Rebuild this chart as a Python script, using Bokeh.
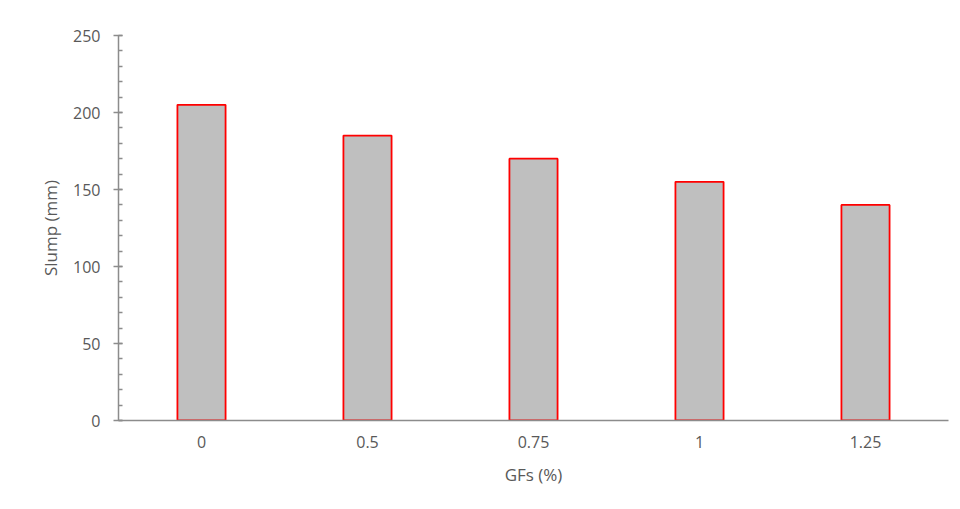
from bokeh.plotting import figure
from bokeh.models import Range1d, SingleIntervalTicker
from bokeh.embed import file_html
from bokeh.resources import INLINE

categories = ["0", "0.5", "0.75", "1", "1.25"]
slump = [205, 185, 170, 155, 140]

FONT = "Open Sans"
TXT = "#595959"
AX = "#8c8c8c"

p = figure(x_range=categories, y_range=Range1d(0, 250), width=952, height=501,
           output_backend="svg", toolbar_location=None,
           min_border_left=118, min_border_right=4, min_border_top=35, min_border_bottom=81)

p.vbar(x=categories, top=slump, width=0.29, fill_color="#bfbfbf",
       line_color="#ff0000", line_width=1.8)

p.outline_line_color = None
p.xgrid.grid_line_color = None
p.ygrid.grid_line_color = None

p.yaxis.ticker = SingleIntervalTicker(interval=50, num_minor_ticks=5)
for ax in (p.xaxis[0], p.yaxis[0]):
    ax.axis_line_color = AX
    ax.axis_line_width = 1.5
    ax.major_label_text_font = FONT
    ax.major_label_text_font_size = "16px"
    ax.major_label_text_color = TXT
    ax.axis_label_text_font = FONT
    ax.axis_label_text_font_size = "17px"
    ax.axis_label_text_color = TXT
    ax.axis_label_text_font_style = "normal"

p.yaxis.major_tick_line_color = AX
p.yaxis.minor_tick_line_color = AX
p.yaxis.major_tick_line_width = 1.5
p.yaxis.minor_tick_line_width = 1.5
p.yaxis.major_tick_in = 4
p.yaxis.major_tick_out = 5
p.yaxis.minor_tick_in = 4
p.yaxis.minor_tick_out = 0
p.yaxis.major_label_standoff = 13
p.yaxis.axis_label = "Slump (mm)"
p.yaxis.axis_label_standoff = 8

p.xaxis.major_tick_line_color = None
p.xaxis.minor_tick_line_color = None
p.xaxis.major_tick_out = 0
p.xaxis.major_tick_in = 0
p.xaxis.major_label_standoff = 15
p.xaxis.axis_label = "GFs (%)"
p.xaxis.axis_label_standoff = 12

open("out.html", "w").write(file_html(p, INLINE))
